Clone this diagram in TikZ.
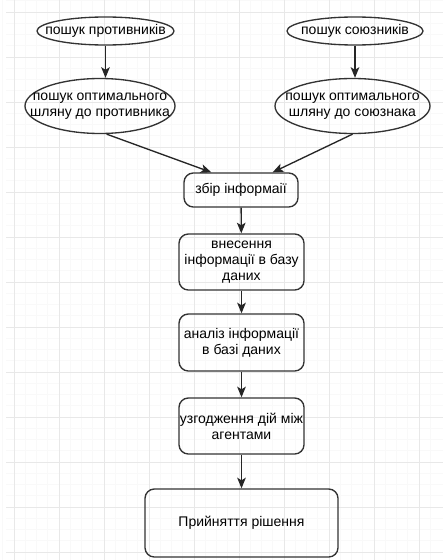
\documentclass[tikz,border=0pt]{standalone}
\usepackage{fontspec}
\setmainfont{Liberation Sans}
\usetikzlibrary{shapes.geometric,arrows.meta}

\begin{document}
\begin{tikzpicture}[x=0.75pt, y=-0.75pt, font=\fontsize{10.5}{12}\selectfont,
  oval/.style = {draw=black!80, line width=1pt, ellipse, inner sep=0pt},
  block/.style = {draw=black!80, line width=1pt, rounded corners=7pt, inner sep=0pt, align=center},
  arr/.style = {draw=black!85, line width=1pt, -{Stealth[length=8pt,width=6.5pt,inset=2pt]}}]
  \useasboundingbox[fill=white] (0,0) rectangle (443,560);
  % grid
  \foreach \x in {0,...,38} \draw[gray!5] (2.75+\x*11.25,0) -- (2.75+\x*11.25,560);
  \foreach \y in {0,...,49} \draw[gray!5] (6,0.75+\y*11.25) -- (443,0.75+\y*11.25);
  \foreach \x in {0,...,9} \draw[gray!18] (14+\x*45,0) -- (14+\x*45,560);
  \foreach \y in {0,...,12} \draw[gray!18] (6,12+\y*45) -- (443,12+\y*45);
  % ellipses
  \node[oval, minimum width=102.75pt, minimum height=21pt,
    label={center:пошук противників}] (e1) at (105.5,31) {};
  \node[oval, minimum width=102pt, minimum height=21pt,
    label={center:пошук союзників}] (e2) at (355,31) {};
  \node[oval, minimum width=112.5pt, minimum height=41.25pt,
    label={[align=center]center:пошук оптимального\\шляну до противника}] (e3) at (100,106) {};
  \node[oval, minimum width=116.25pt, minimum height=41.25pt,
    label={[align=center]center:пошук оптимального\\шляну до союзнака}] (e4) at (352.5,106) {};
  % boxes
  \node[block, minimum width=85.5pt, minimum height=25.5pt] (b1) at (241,190) {збір інформаії};
  \node[block, minimum width=93.75pt, minimum height=42pt] (b2) at (241.5,262) {внесення\\інформації в базу\\даних};
  \node[block, minimum width=93.75pt, minimum height=42.75pt] (b3) at (241.5,342.5) {аналіз інформації\\в базі даних};
  \node[block, minimum width=93.75pt, minimum height=42pt] (b4) at (241.5,426) {узгодження дій між\\агентами};
  \node[block, minimum width=144.75pt, minimum height=51pt] (b5) at (241.5,523) {Прийняття рішення};
  % arrows
  \draw[arr] (e1) -- (e1 |- e3.north);
  \draw[arr] (e2) -- (e2 |- e4.north);
  \draw[arr] ([xshift=5pt]e3.south) -- ([xshift=21pt]b1.north west);
  \draw[arr] (e4.south) -- ([xshift=-19.5pt]b1.north east);
  \draw[arr] (b1) -- (b2);
  \draw[arr] (b2) -- (b3);
  \draw[arr] (b3) -- (b4);
  \draw[arr] (b4) -- (b5);
\end{tikzpicture}
\end{document}
